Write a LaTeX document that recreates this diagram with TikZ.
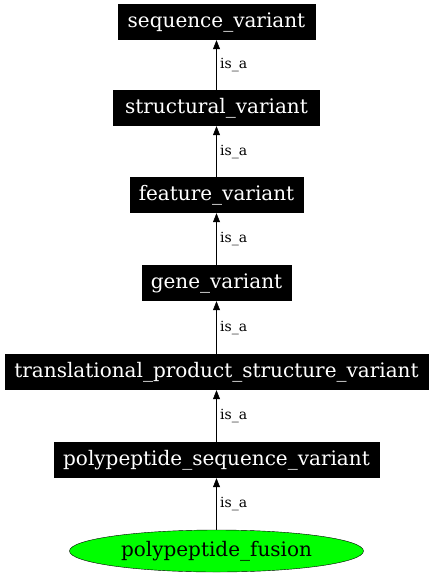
\documentclass[tikz,border=0pt]{standalone}
\usepackage{fontspec}
\setmainfont{DejaVu Serif}
\usetikzlibrary{arrows.meta,positioning,shapes.geometric}

\begin{document}
\begin{tikzpicture}[x=1pt, y=1pt,
		term/.style={fill=black, text=white, inner sep=0pt, minimum height=36pt, font=\fontsize{20}{22}\selectfont},
		leaf/.style={draw, ellipse, fill=green, inner sep=0pt, minimum height=42pt, minimum width=294pt, font=\fontsize{20}{22}\selectfont},
		isa/.style={-{Triangle[length=9pt, width=7pt]}, semithick},
		lbl/.style={right, font=\fontsize{14}{16}\selectfont}
	]
		\useasboundingbox (0,0) rectangle (432,-576);
		\node[term, minimum width=198pt] (seqvar) at (216.5,-22) {sequence\_variant};
		\node[term, minimum width=207pt] (structvar) at (216.5,-108) {structural\_variant};
		\node[term, minimum width=174pt] (featvar) at (216.5,-195) {feature\_variant};
		\node[term, minimum width=150pt] (genevar) at (216.5,-283) {gene\_variant};
		\node[term, minimum width=424pt] (tpsvar) at (216.5,-372) {translational\_product\_structure\_variant};
		\node[term, minimum width=326pt] (ppsvar) at (216.5,-460) {polypeptide\_sequence\_variant};
		\node[leaf] (ppfusion) at (216.5,-551) {polypeptide\_fusion};
		\draw[isa] (structvar) -- node[lbl]{is\_a} (seqvar);
		\draw[isa] (featvar) -- node[lbl]{is\_a} (structvar);
		\draw[isa] (genevar) -- node[lbl]{is\_a} (featvar);
		\draw[isa] (tpsvar) -- node[lbl]{is\_a} (genevar);
		\draw[isa] (ppsvar) -- node[lbl]{is\_a} (tpsvar);
		\draw[isa] (ppfusion) -- node[lbl]{is\_a} (ppsvar);
	\end{tikzpicture}
\end{document}
